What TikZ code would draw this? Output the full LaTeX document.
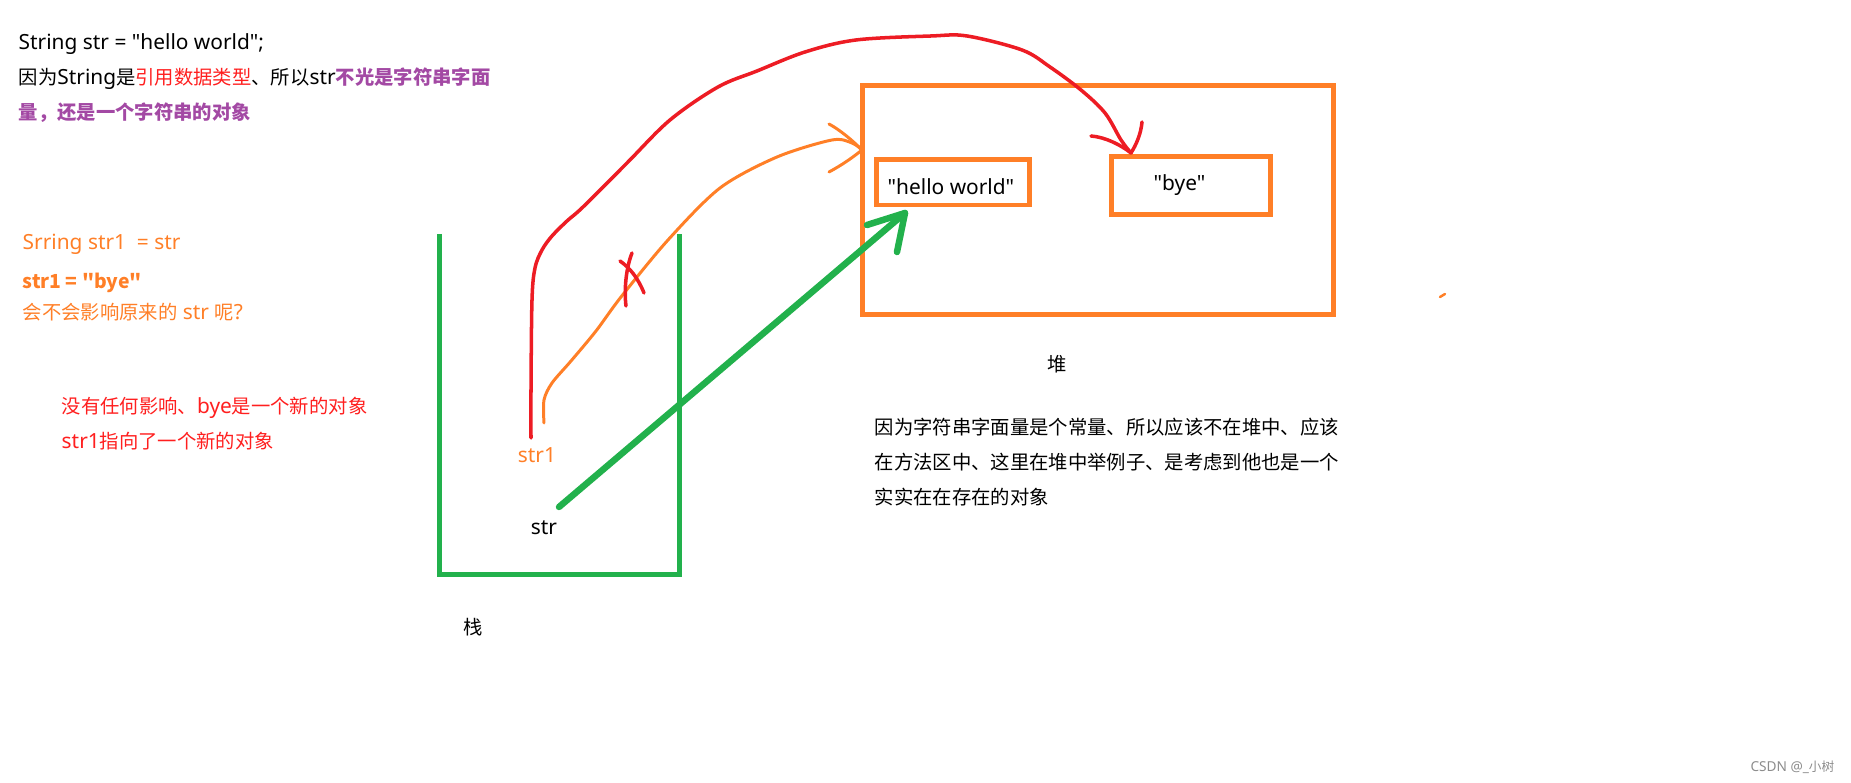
\documentclass[tikz,border=0pt]{standalone}
\usepackage{fontspec}
\setmainfont{Noto Sans CJK SC}[Ligatures=TeXOff]
\newfontfamily\latfont{Noto Sans}[Ligatures=TeXOff,Scale=1.08]
\newcommand{\lt}[1]{{\latfont #1}}
\definecolor{pred}{HTML}{ED1C24}
\definecolor{ptext}{HTML}{FF1F1F}
\definecolor{porange}{HTML}{FF7F27}
\definecolor{ppurple}{HTML}{A349A4}
\definecolor{pgreen}{HTML}{22B14C}
\definecolor{wmgray}{HTML}{8C8C8C}
\newcommand{\fs}{\fontsize{5.5pt}{7pt}\selectfont}
\begin{document}
\begin{tikzpicture}[x=0.01cm,y=-0.01cm,
  txt/.style={inner sep=0,anchor=base west,font=\fs},
  ctxt/.style={inner sep=0,anchor=base,font=\fs},
  heapbox/.style={draw=porange,line width=1.42pt,inner sep=0},
  redline/.style={draw=pred,line width=1pt,line cap=round,line join=round},
  orangeline/.style={draw=porange,line width=0.85pt,line cap=round,line join=round},
  greenline/.style={draw=pgreen,line width=1.85pt,line cap=round,line join=round},
  stackline/.style={draw=pgreen,line width=1.42pt}]
\useasboundingbox (0,0) rectangle (1851,783);

% texts, upper left
\node[txt] (l1) at (18,50) {\lt{String str = "hello world";}};
\node[txt] (l2) at (18,85) {因为\lt{String}是\textcolor{ptext}{引用数据类型}、所以\lt{str}\textcolor{ppurple}{\bfseries 不光是字符串字面}};
\node[txt,text=ppurple,font=\fs\bfseries] (l3) at (18,120) {量，还是一个字符串的对象};
\node[txt,text=porange] (s1) at (22,250) {\lt{Srring str1\ \ = str}};
\node[txt,text=porange,font=\fs\bfseries] (s2) at (22,289) {str1 = "bye"};
\node[txt,text=porange] (s3) at (22,320) {会不会影响原来的\lt{ str }呢\lt{?}};
\node[txt,text=ptext] (a1) at (61,414) {没有任何影响、\lt{bye}是一个新的对象};
\node[txt,text=ptext] (a2) at (61,449) {\lt{str1}指向了一个新的对象};

% stack
\draw[stackline] (439,234) -- (439,575) -- (679,575) -- (679,234);
\node[ctxt,text=porange] (str1) at (537,463) {\lt{str1}};
\node[ctxt] (str) at (544,535) {\lt{str}};
\node[ctxt] (zhan) at (473,635) {栈};

% heap
\node[heapbox,minimum width=4.70cm,minimum height=2.28cm] (heap) at (1098,200) {};
\node[heapbox,minimum width=1.52cm,minimum height=0.45cm] (hello) at (953,182.5) {};
\node[txt] (hellotext) at (887,195) {\lt{"hello world"}};
\node[heapbox,minimum width=1.58cm,minimum height=0.57cm] (bye) at (1191,185.5) {};
\node[txt] (byetext) at (1153,191) {\lt{"bye"}};
\node[ctxt] (dui) at (1057,372) {堆};
\node[txt] (p1) at (874,435) {因为字符串字面量是个常量、所以应该不在堆中、应该};
\node[txt] (p2) at (874,470) {在方法区中、这里在堆中举例子、是考虑到他也是一个};
\node[txt] (p3) at (874,505) {实实在在存在的对象};

% connector end points
\coordinate (redstart) at (531,438);
\coordinate (redtip) at (1131,153);
\coordinate (orstart) at (544,423);
\coordinate (ortip) at (862,150);
\coordinate (grstart) at (559,507);
\coordinate (grtip) at (905,213);

% red: str1 -> "bye"
\draw[redline] plot[smooth,tension=0.55] coordinates {(redstart) (531,390) (532,300) (535,268) (542,250) (552,236) (567,221) (583,207) (627,163) (670,120) (718,87) (757,71) (805,52) (856,40) (931,36) (967,36) (1022,50) (1050,67) (1081,90) (1105,113) (1121,140) (redtip)};
\draw[redline] (1091,136) .. controls (1105,137) and (1121,145) .. (redtip);
\draw[redline] (1142,122) .. controls (1141,134) and (1136,145) .. (redtip);

% orange: str1 -> heap (crossed out)
\draw[orangeline] plot[smooth,tension=0.5] coordinates {(orstart) (544,400) (552,383) (571,361) (596,331) (621,297) (668,240) (720,188) (777,157) (832,140) (852,143) (ortip)};
\draw[orangeline] (829,124) .. controls (840,130) and (852,140) .. (ortip);
\draw[orangeline] (829,172) .. controls (842,165) and (852,158) .. (ortip);
\draw[redline] (620,261) .. controls (630,268) and (638,278) .. (644,293);
\draw[redline] (632,253) .. controls (626,268) and (624,290) .. (626,306);

% green: str -> "hello world"
\draw[greenline] (grstart) -- (grtip);
\draw[greenline] (867,225) -- (grtip) -- (897,252);

% stray mark
\draw[porange,line width=0.7pt,line cap=round] (1440,297) -- (1445,294);

% watermark
\node[inner sep=0,anchor=base east,font=\fontsize{3.6pt}{4pt}\selectfont,text=wmgray] (wm) at (1835,772) {\lt{CSDN @\_}小树};
\end{tikzpicture}
\end{document}
